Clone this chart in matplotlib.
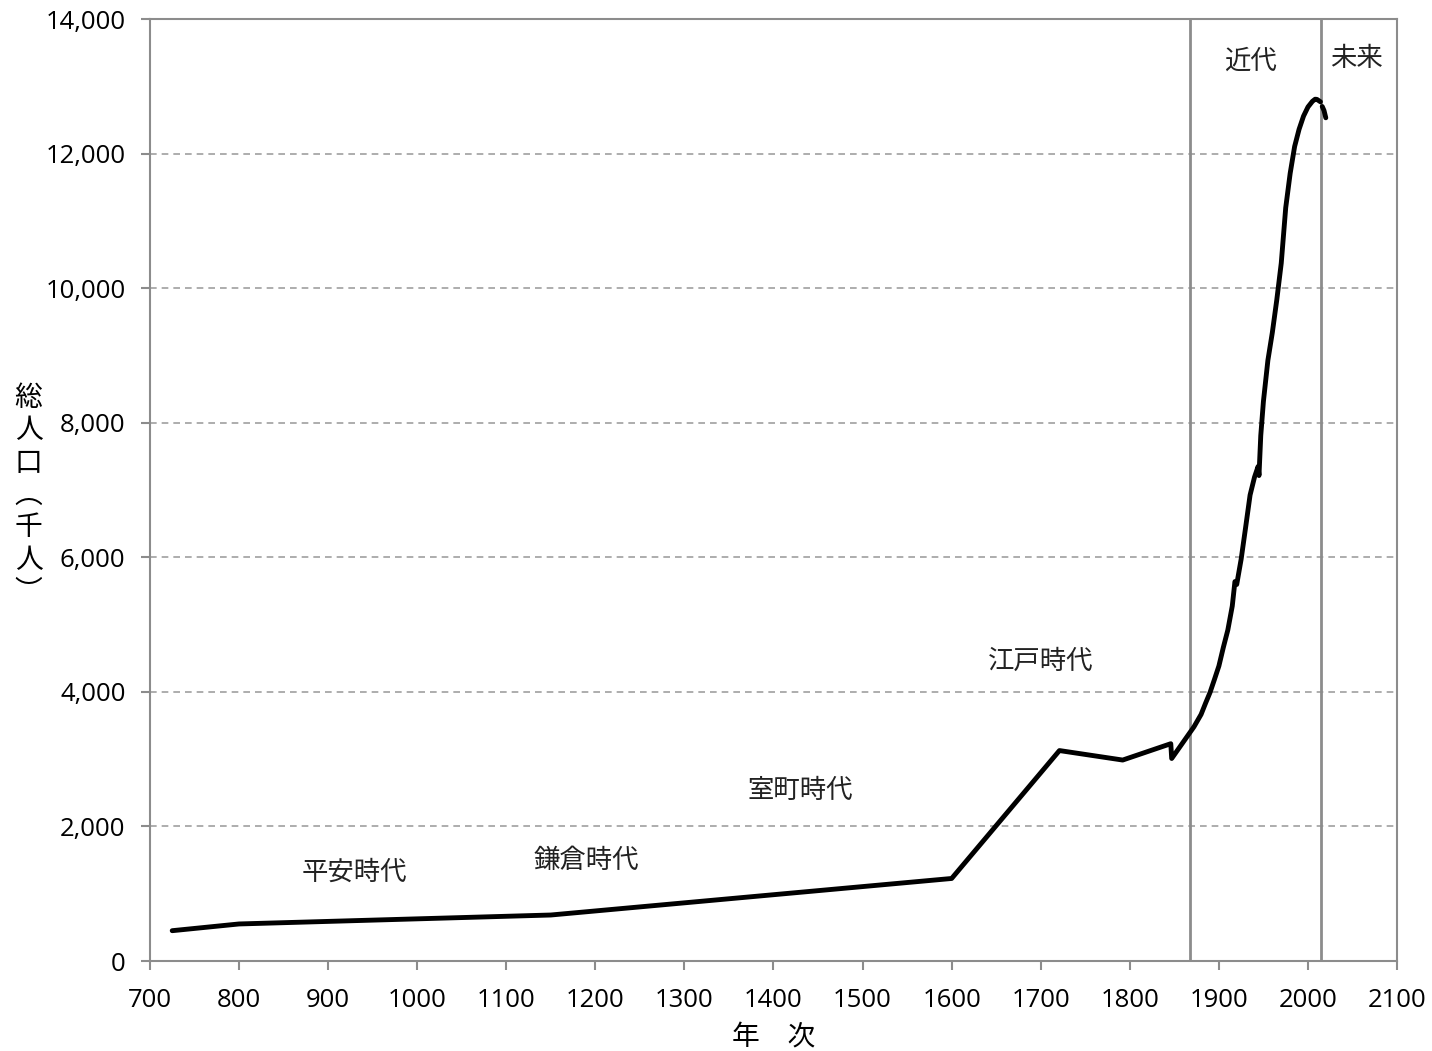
import matplotlib
matplotlib.use("Agg")
import matplotlib.pyplot as plt
import numpy as np

plt.rcParams['font.family'] = ['Noto Sans CJK JP', 'DejaVu Sans']

# 年次と総人口（千人表示の目盛り）
years_past = [725, 800, 1150, 1600, 1721, 1792, 1846, 1847, 1872, 1880, 1885, 1890,
              1895, 1900, 1905, 1910, 1915, 1918, 1920, 1925, 1930, 1935, 1940,
              1944, 1945, 1947, 1950, 1955, 1960, 1965, 1970, 1975, 1980, 1985,
              1990, 1995, 2000, 2005, 2008, 2010, 2014]
pop_past = [451, 551, 684, 1227, 3128, 2987, 3230, 3010, 3481, 3665, 3831, 3990,
            4185, 4385, 4662, 4918, 5275, 5640, 5596, 5974, 6445, 6925, 7193,
            7350, 7215, 7810, 8320, 8928, 9342, 9828, 10372, 11194, 11706, 12105,
            12361, 12557, 12693, 12777, 12808, 12806, 12770]

years_future = [2016, 2018, 2020]
pop_future = [12700, 12640, 12532]

era_labels = ['平安時代', '鎌倉時代', '室町時代', '江戸時代', '近代', '未来']
era_x = [930, 1190, 1430, 1700, 1935, 2054]
era_y = [1320, 1500, 2540, 4460, 13380, 13420]

boundaries = [1868, 2015]

fig = plt.figure(figsize=(14.32, 10.51), dpi=100)
ax = fig.add_axes([0.1047, 0.0856, 0.8709, 0.8963])

gray = '#8c8c8c'
for y in range(2000, 14000, 2000):
    ax.axhline(y, color='#a0a0a0', lw=1.2, ls=(0, (4, 3)), zorder=1)
for b in boundaries:
    ax.axvline(b, color=gray, lw=2, zorder=2)

ax.plot(years_past, pop_past, color='black', lw=3.5, solid_capstyle='round', zorder=3)
ax.plot(years_future, pop_future, color='black', lw=3.5, solid_capstyle='round', zorder=3)

for t, x, y in zip(era_labels, era_x, era_y):
    ax.text(x, y, t, ha='center', va='center', fontsize=19, color='#222222')

ax.set_xlim(700, 2100)
ax.set_ylim(0, 14000)
ax.set_xticks(range(700, 2101, 100))
ax.set_yticks(range(0, 14001, 2000))
ax.set_yticklabels([f'{v:,}' for v in range(0, 14001, 2000)])
for s in ax.spines.values():
    s.set_color(gray)
    s.set_linewidth(1.5)
ax.tick_params(axis='both', colors=gray, length=6.5, width=1.5, labelsize=18.5,
               labelcolor='black', direction='out')
ax.tick_params(axis='x', pad=13)
ax.tick_params(axis='y', pad=11)
for lab in ax.get_xticklabels() + ax.get_yticklabels():
    lab.set_family(['Open Sans', 'DejaVu Sans'])

ax.set_xlabel('年　次', fontsize=20, labelpad=6)
fig.text(0.02, 0.529, '\n'.join('総人口︵千人︶'), ha='center', va='center',
         fontsize=20, linespacing=1.1)

fig.savefig('out.png', dpi=100)
